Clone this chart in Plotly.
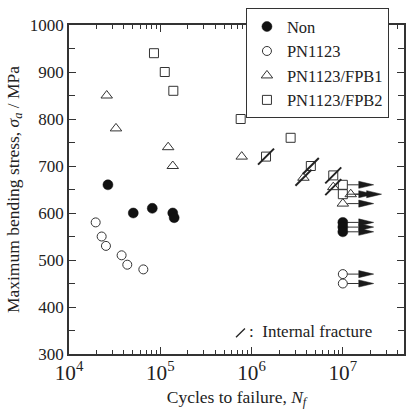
import numpy as np
import plotly.graph_objects as go

# ---------------- data ----------------
non_N = [2.67e4, 5.06e4, 8.17e4, 1.37e5, 1.42e5, 1.0e7, 1.0e7, 1.0e7]
non_S = [660, 600, 610, 600, 590, 580, 570, 560]
non_runout = [0, 0, 0, 0, 0, 1, 1, 1]

pn_N = [1.96e4, 2.28e4, 2.54e4, 3.77e4, 4.35e4, 6.52e4, 1.0e7, 1.0e7]
pn_S = [580, 550, 530, 510, 490, 480, 470, 450]
pn_runout = [0, 0, 0, 0, 0, 0, 1, 1]

fpb1_N = [2.59e4, 3.27e4, 1.22e5, 1.37e5, 7.8e5, 3.7e6, 7.85e6, 1.22e7, 1.0e7]
fpb1_S = [850, 780, 740, 700, 720, 675, 655, 640, 620]
fpb1_runout = [0, 0, 0, 0, 0, 0, 0, 1, 1]
fpb1_internal = [0, 0, 0, 0, 0, 1, 1, 0, 0]

fpb2_N = [8.53e4, 1.12e5, 1.39e5, 7.6e5, 1.44e6, 2.68e6, 4.46e6, 7.85e6, 1.0e7, 1.0e7]
fpb2_S = [940, 900, 860, 800, 720, 760, 700, 680, 660, 640]
fpb2_runout = [0, 0, 0, 0, 0, 0, 0, 0, 1, 1]
fpb2_internal = [0, 0, 0, 0, 1, 0, 1, 1, 0, 0]

y_tick_vals = [300, 400, 500, 600, 700, 800, 900, 1000]
y_minor_vals = [350, 450, 550, 650, 750, 850, 950]

# ---------------- layout constants ----------------
W, H = 414, 412
ML, MR, MT, MB = 69, 8, 22, 55
XR = [4.0, 7.67]
YR = [300, 1000]
px_per_dec = (W - ML - MR) / (XR[1] - XR[0])
px_per_mpa = (H - MT - MB) / (YR[1] - YR[0])

FONT = "Liberation Serif"
INK = "#222222"
MK = "#333333"

# run-out arrow geometry (pixels)
ARROW_PX, HEAD_PX, HALF_H_PX, START_PX = 31, 15, 3.6, 4.5

shaft_x, shaft_y, head_x, head_y = [], [], [], []
for Ns, Ss, Rs in [(non_N, non_S, non_runout), (pn_N, pn_S, pn_runout),
                   (fpb1_N, fpb1_S, fpb1_runout), (fpb2_N, fpb2_S, fpb2_runout)]:
    for n, s, r in zip(Ns, Ss, Rs):
        if not r:
            continue
        lx = np.log10(n)
        xb = 10 ** (lx + (ARROW_PX - HEAD_PX) / px_per_dec)
        xt = 10 ** (lx + ARROW_PX / px_per_dec)
        xs = 10 ** (lx + START_PX / px_per_dec)
        hh = HALF_H_PX / px_per_mpa
        shaft_x += [xs, xb, None]
        shaft_y += [s, s, None]
        head_x += [xb, xt, xb, xb, None]
        head_y += [s + hh, s, s - hh, s + hh, None]

fig = go.Figure()

fig.add_trace(go.Scatter(x=shaft_x, y=shaft_y, mode="lines",
                         line=dict(color=MK, width=1), showlegend=False, hoverinfo="skip"))
fig.add_trace(go.Scatter(x=head_x, y=head_y, mode="lines", fill="toself",
                         fillcolor="#1a1a1a", line=dict(color="#1a1a1a", width=0.5),
                         showlegend=False, hoverinfo="skip"))

fig.add_trace(go.Scatter(x=non_N, y=non_S, mode="markers", name="Non",
                         marker=dict(symbol="circle", size=10, color="#111111",
                                     line=dict(color="#111111", width=0.5))))
fig.add_trace(go.Scatter(x=pn_N, y=pn_S, mode="markers", name="PN1123",
                         marker=dict(symbol="circle-open", size=9, color=MK,
                                     line=dict(color=MK, width=1))))
fig.add_trace(go.Scatter(x=fpb1_N, y=fpb1_S, mode="markers", name="PN1123/FPB1",
                         marker=dict(symbol="triangle-up-open", size=10, color=MK,
                                     line=dict(color=MK, width=1))))
fig.add_trace(go.Scatter(x=fpb2_N, y=fpb2_S, mode="markers", name="PN1123/FPB2",
                         marker=dict(symbol="square-open", size=9, color=MK,
                                     line=dict(color=MK, width=1))))

int_x = [n for n, f in zip(fpb1_N, fpb1_internal) if f] + [n for n, f in zip(fpb2_N, fpb2_internal) if f]
int_y = [s for s, f in zip(fpb1_S, fpb1_internal) if f] + [s for s, f in zip(fpb2_S, fpb2_internal) if f]
fig.add_trace(go.Scatter(x=int_x, y=int_y, mode="markers", showlegend=False,
                         marker=dict(symbol="line-ne", size=16, color=INK,
                                     line=dict(color=INK, width=2)),
                         hoverinfo="skip"))

fig.update_layout(
    xaxis=dict(type="log", range=XR, dtick=1, exponentformat="power", showexponent="all",
               showline=True, linecolor=MK, linewidth=1.5, mirror="ticks",
               ticks="inside", ticklen=7, tickwidth=1.2, tickcolor=MK,
               minor=dict(ticks="inside", ticklen=4, tickwidth=1, tickcolor=MK,
                          dtick="D1", showgrid=False),
               showgrid=False, zeroline=False,
               tickfont=dict(family=FONT, size=17, color=INK),
               title=dict(text="Cycles to failure, <i>N<sub>f</sub></i>",
                          font=dict(family=FONT, size=17.5, color=INK), standoff=6)),
    yaxis=dict(range=YR, tickmode="array", tickvals=y_tick_vals,
               showline=True, linecolor=MK, linewidth=1.5, mirror="ticks",
               ticks="inside", ticklen=7, tickwidth=1.3, tickcolor=MK,
               showgrid=False, zeroline=False,
               tickfont=dict(family=FONT, size=17, color=INK),
               minor=dict(ticks="inside", ticklen=6, tickwidth=1.1, tickcolor=MK,
                          tickmode="array", tickvals=y_minor_vals, showgrid=False),
               title=dict(text="Maximum bending stress, <i>σ<sub>a</sub></i> / MPa",
                          font=dict(family=FONT, size=17.5, color=INK), standoff=6)),
    width=W, height=H,
    margin=dict(l=ML, r=MR, t=MT, b=MB, pad=0),
    paper_bgcolor="white", plot_bgcolor="white",
    font=dict(family=FONT, color=INK),
    legend=dict(x=(247 - ML) / (W - ML - MR), y=1 + (MT - 5) / (H - MT - MB),
                xanchor="left", yanchor="top",
                bgcolor="white", bordercolor=MK, borderwidth=1,
                font=dict(family=FONT, size=16.5, color=INK),
                itemwidth=30, tracegroupgap=0),
    shapes=[dict(type="line", xref="paper", yref="paper",
                 x0=(237 - ML) / (W - ML - MR), y0=(H - MB - 340) / (H - MT - MB),
                 x1=(246 - ML) / (W - ML - MR), y1=(H - MB - 331) / (H - MT - MB),
                 line=dict(color=INK, width=1.3))],
    annotations=[dict(xref="paper", yref="paper",
                      x=(248 - ML) / (W - ML - MR), y=(H - MB - 334) / (H - MT - MB),
                      xanchor="left", yanchor="middle", showarrow=False,
                      text=":  Internal fracture",
                      font=dict(family=FONT, size=17, color=INK))],
)

fig.write_html("out.html")
